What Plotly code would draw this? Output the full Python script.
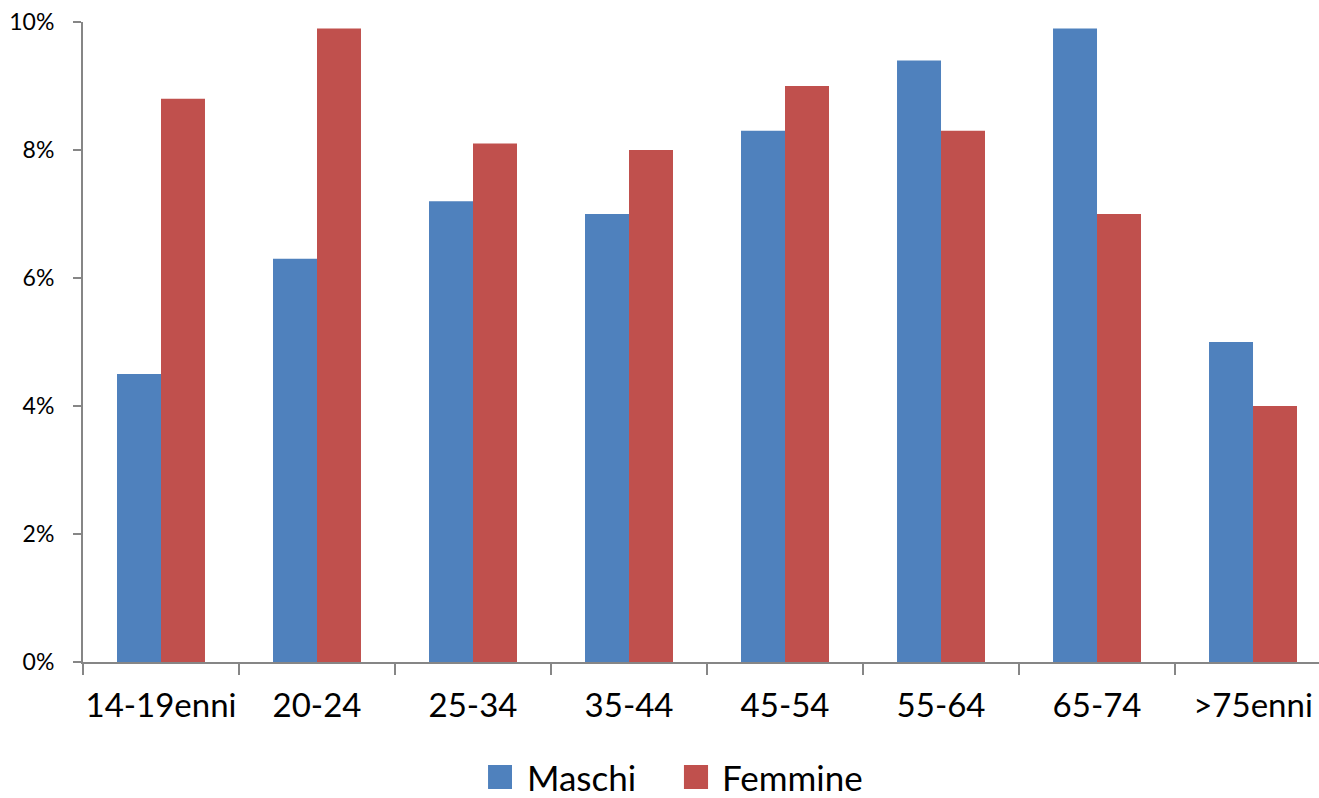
import plotly.graph_objects as go

categories = ["14-19enni", "20-24", "25-34", "35-44", "45-54", "55-64", "65-74", ">75enni"]
maschi = [4.5, 6.3, 7.2, 7.0, 8.3, 9.4, 9.9, 5.0]
femmine = [8.8, 9.9, 8.1, 8.0, 9.0, 8.3, 7.0, 4.0]
series_names = ["Maschi", "Femmine"]
series_colors = ["#4F81BD", "#C0504D"]
y_ticks = [0, 2, 4, 6, 8, 10]
y_labels = ["0%", "2%", "4%", "6%", "8%", "10%"]

FONT = "Lato"
AXIS = "#868686"

fig = go.Figure()
for name, vals, col in zip(series_names, [maschi, femmine], series_colors):
    fig.add_trace(go.Bar(name=name, x=categories, y=vals, showlegend=False,
                         marker=dict(color=col, line=dict(width=0))))

# custom legend (large squares like the original)
legend_sq = [(0.3277, 0.3471), (0.4862, 0.5057)]
legend_tx = [0.3576, 0.5154]
for (x0, x1), tx, name, col in zip(legend_sq, legend_tx, series_names, series_colors):
    fig.add_shape(type="rect", xref="paper", yref="paper", x0=x0, x1=x1, y0=-0.1984, y1=-0.1609,
                  fillcolor=col, line=dict(width=0))
    fig.add_annotation(text=name, xref="paper", yref="paper", x=tx, y=-0.1797, xanchor="left",
                       yanchor="middle", showarrow=False,
                       font=dict(size=35, family=FONT, color="black"))

fig.update_layout(
    width=1319, height=798,
    margin=dict(l=83, r=0, t=22, b=136, autoexpand=False),
    paper_bgcolor="white", plot_bgcolor="white",
    barmode="group", bargap=0.436, bargroupgap=0,
    font=dict(family=FONT, color="black"),
    showlegend=False,
    xaxis=dict(
        type="category", range=[-0.5, 7.423], automargin=False,
        showline=True, linecolor=AXIS, linewidth=2,
        ticks="outside", tickson="boundaries", ticklen=11, tickcolor=AXIS, tickwidth=2,
        tickfont=dict(size=33, family=FONT), tickangle=0, showgrid=False, ticklabelstandoff=13,
    ),
    yaxis=dict(
        range=[0, 10], tickvals=y_ticks, ticktext=y_labels, automargin=False,
        showline=True, linecolor=AXIS, linewidth=2,
        ticks="outside", ticklen=8, tickcolor=AXIS, tickwidth=2,
        tickfont=dict(size=23, family=FONT), showgrid=False, zeroline=False,
        ticklabelstandoff=14,
    ),
)

fig.write_html("out.html")
